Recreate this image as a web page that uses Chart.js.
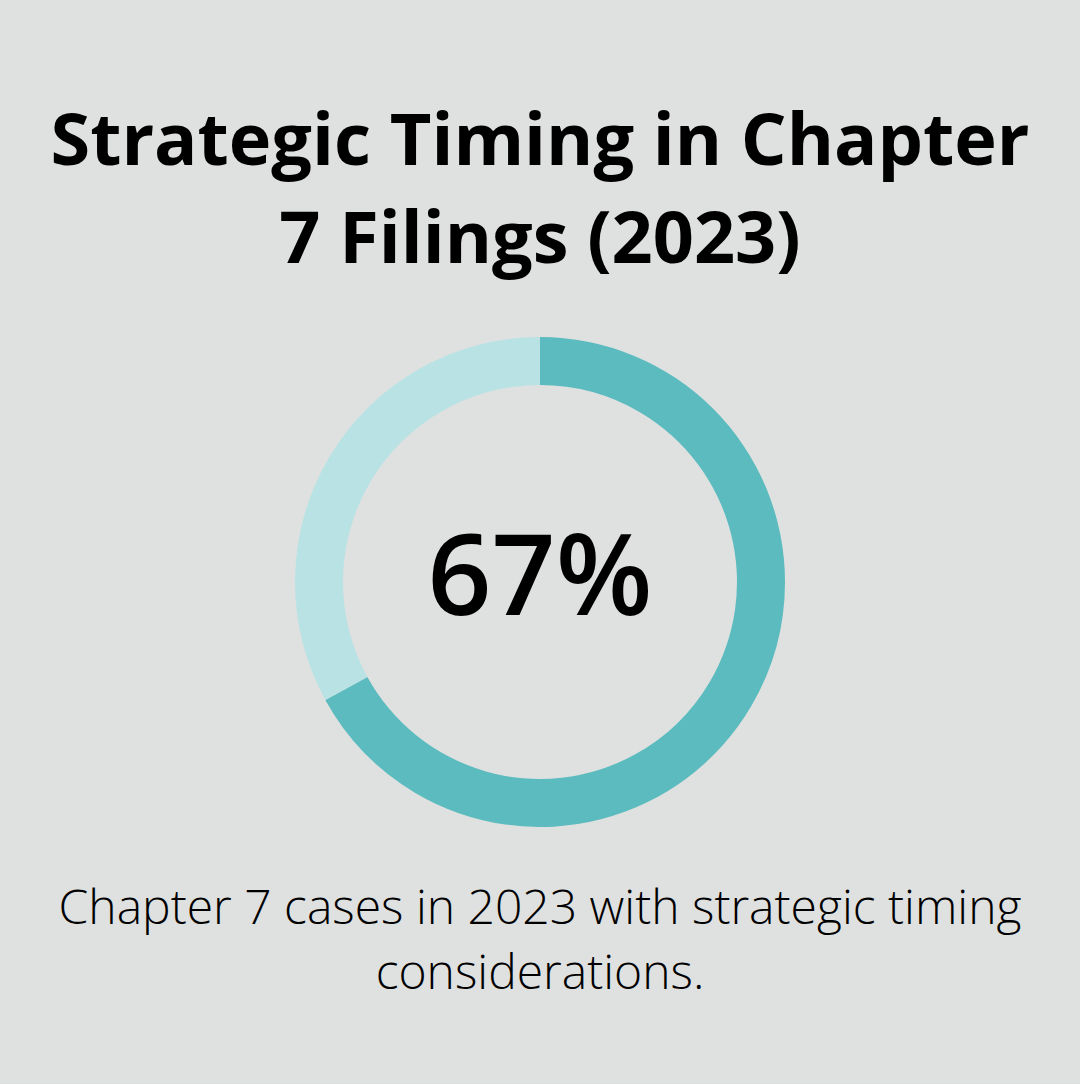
<!DOCTYPE html>
<html>
<head>
<meta charset="utf-8">
<script src="https://cdn.jsdelivr.net/npm/chart.js@4"></script>
<style>
  html, body { margin: 0; padding: 0; }
  body {
    width: 1080px; height: 1084px; overflow: hidden;
    background: #dfe1e0; position: relative;
    font-family: "Open Sans", sans-serif; color: #000;
  }
  .title {
    position: absolute; left: 0; top: 88px; width: 1080px;
    text-align: center; font-weight: 700; font-size: 72px; line-height: 98px;
  }
  .wrap { position: absolute; left: 295px; top: 337px; width: 490px; height: 490px; }
  .center {
    position: absolute; left: 0; top: 516px; width: 1080px;
    text-align: center; font-size: 112px; line-height: 112px; font-weight: 600;
  }
  .caption {
    position: absolute; left: 0; top: 873px; width: 1080px;
    text-align: center; font-size: 48px; line-height: 65px; font-weight: 300;
  }
</style>
</head>
<body>
<div class="title">Strategic Timing in Chapter<br>7 Filings (2023)</div>
<div class="wrap"><canvas id="chart"></canvas></div>
<div class="center" id="centerLabel"></div>
<div class="caption">Chapter 7 cases in 2023 with strategic timing<br>considerations.</div>
<script>
/* data */
const labels = ['With strategic timing', 'Other'];
const values = [67, 33];
const colors = ['#5bbbbf', '#b9e2e4'];

document.getElementById('centerLabel').innerText = values[0] + '%';

const ctx = document.getElementById('chart').getContext('2d');
new Chart(ctx, {
  type: 'doughnut',
  data: {
    labels: labels,
    datasets: [{
      data: values,
      backgroundColor: colors,
      borderWidth: 0,
      hoverOffset: 0
    }]
  },
  options: {
    responsive: true,
    maintainAspectRatio: false,
    animation: false,
    cutout: '80.4%',
    layout: { padding: 0 },
    plugins: {
      legend: { display: false },
      tooltip: { enabled: false }
    }
  }
});
</script>
</body>
</html>
